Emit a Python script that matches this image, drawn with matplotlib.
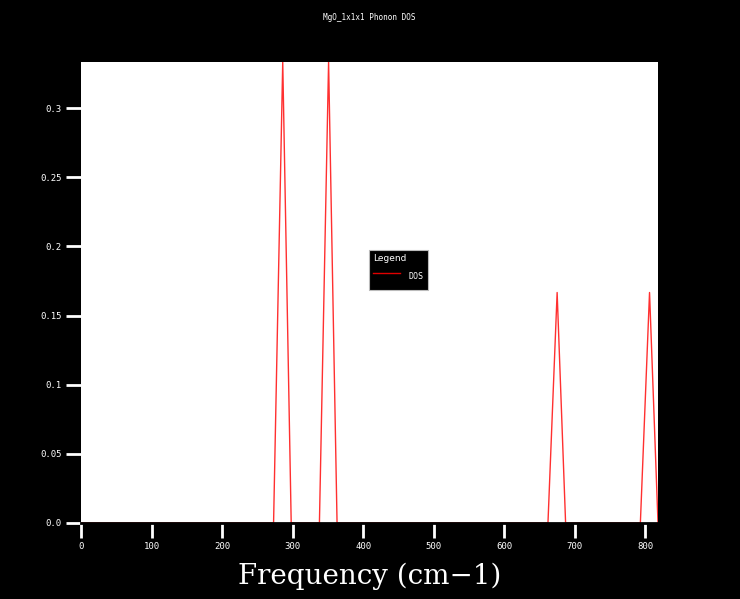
import matplotlib
matplotlib.use("Agg")
import matplotlib.pyplot as plt

# phonon DOS (triangular peaks on a zero baseline)
freq = [0, 273, 286, 298, 338, 351, 363, 662, 675, 687, 793, 806, 818]
dos = [0, 0, 1/3, 0, 0, 1/3, 0, 0, 1/6, 0, 0, 1/6, 0]

xticks = [0, 100, 200, 300, 400, 500, 600, 700, 800]
xtick_labels = ["0", "100", "200", "300", "400", "500", "600", "700", "800"]
yticks = [0.0, 0.05, 0.1, 0.15, 0.2, 0.25, 0.3]
ytick_labels = ["0.0", "0.05", "0.1", "0.15", "0.2", "0.25", "0.3"]

title = "MgO_1x1x1 Phonon DOS"
xlabel = "Frequency (cm\u22121)"

fig = plt.figure(figsize=(7.4, 5.99), dpi=100, facecolor="black")
ax = fig.add_axes([81/740, 1-523/599, 577/740, 461/599])
ax.set_facecolor("white")

ax.plot(freq, dos, color="#ff3030", lw=1.0, label="DOS", zorder=2)
ax.set_xlim(0, max(freq))
ax.set_ylim(0, 1/3)

ax.set_xticks(xticks)
ax.set_xticklabels(xtick_labels)
ax.set_yticks(yticks)
ax.set_yticklabels(ytick_labels)
ax.tick_params(colors="white", length=11, width=2, labelsize=6.5, pad=3)
for lab in ax.get_xticklabels() + ax.get_yticklabels():
    lab.set_family("DejaVu Sans Mono")

for s in ["top", "right", "left"]:
    ax.spines[s].set_visible(False)
ax.spines["bottom"].set_color("black")
ax.spines["bottom"].set_linewidth(2)
ax.spines["bottom"].set_zorder(3)

fig.text(0.5 * (81 + 658) / 740, 1 - 17/599, title, color="white",
         fontsize=5.5, family="DejaVu Sans Mono", ha="center", va="center")
fig.text(0.5 * (81 + 658) / 740, 1 - 576/599, xlabel, color="white",
         fontsize=20, family="DejaVu Serif", ha="center", va="center")

leg = ax.legend(loc="upper left", bbox_to_anchor=(0.499, 0.592), title="Legend",
                facecolor="black", edgecolor="#bbbbbb", framealpha=1,
                fancybox=False, fontsize=6, title_fontsize=6.5,
                handlelength=3.2, handleheight=3.0, handletextpad=1.1,
                borderpad=0.5, borderaxespad=0)
leg._legend_box.align = "left"
leg.get_frame().set_linewidth(0.8)
leg.get_title().set_color("white")
for t in leg.get_texts():
    t.set_color("white")
    t.set_family("DejaVu Sans Mono")
leg.get_lines()[0].set_color("#e00000")

fig.savefig("out.png", dpi=100, facecolor="black")
